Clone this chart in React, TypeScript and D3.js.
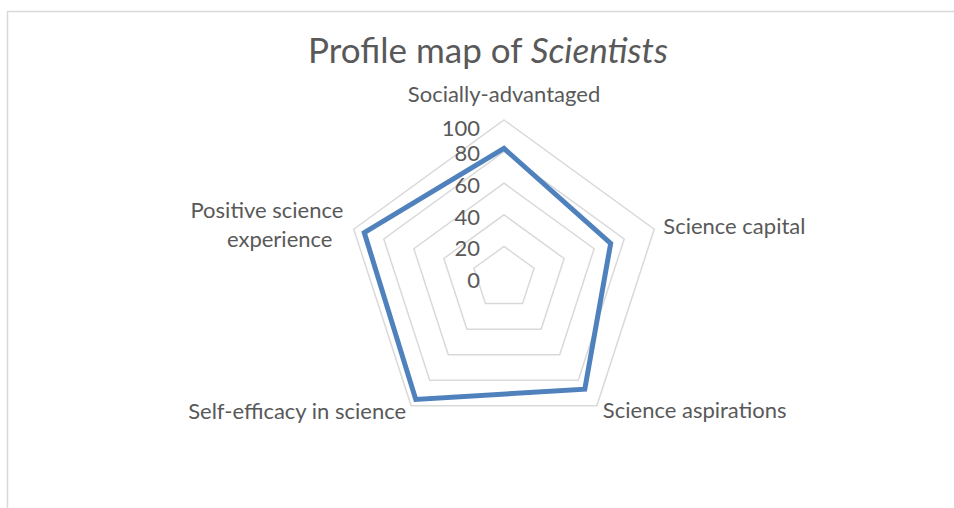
import React from "react";
import * as d3 from "d3";

const categories: string[][] = [
  ["Socially-advantaged"],
  ["Science capital"],
  ["Science aspirations"],
  ["Self-efficacy in science"],
  ["Positive science ", "experience"],
];
const scientists: number[] = [82, 71, 87, 95, 93];
const ticks: number[] = [0, 20, 40, 60, 80, 100];
const titleMain = "Profile map of ";
const titleItalic = "Scientists";

const W = 954;
const H = 508;
const CX = 504;
const CY = 278;
const R = 158;
const FONT = "Lato, 'Open Sans', sans-serif";
const TXT = "#595959";

// label placement style: per-line [dx, dy, anchor] relative to outer vertex
const labelStyle: { dx: number; dy: number; anchor: string }[][] = [
  [{ dx: 0, dy: -18, anchor: "middle" }],
  [{ dx: 9, dy: 4.5, anchor: "start" }],
  [{ dx: 6, dy: 12.5, anchor: "start" }],
  [{ dx: -5, dy: 13.5, anchor: "end" }],
  [
    { dx: -84, dy: -11, anchor: "middle" },
    { dx: -74, dy: 18, anchor: "middle" },
  ],
];

export default function App() {
  const r = d3.scaleLinear().domain([0, 100]).range([0, R]);
  const n = categories.length;
  const angle = d3
    .scaleLinear()
    .domain([0, n])
    .range([0, 2 * Math.PI]);
  const pt = (i: number, v: number): [number, number] => {
    const a = angle(i);
    return [CX + r(v) * Math.sin(a), CY - r(v) * Math.cos(a)];
  };
  const line = d3.line<[number, number]>().curve(d3.curveLinearClosed);

  const rings = ticks.filter((t) => t > 0);

  return (
    <svg
      width={W}
      height={H}
      style={{ position: "absolute", left: 0, top: 0, background: "#fff" }}
      fontFamily={FONT}
    >
      <rect x={7.5} y={11.5} width={W + 20} height={H + 20} fill="#fff" stroke="#d9d9d9" strokeWidth={1.5} />
      <text x={488} y={63} textAnchor="middle" fontSize={35} fill={TXT}>
        {titleMain}
        <tspan fontStyle="italic">{titleItalic}</tspan>
      </text>
      {rings.map((t) => (
        <path
          key={t}
          d={line(d3.range(n).map((i) => pt(i, t))) || ""}
          fill="none"
          stroke="#d9d9d9"
          strokeWidth={1.5}
        />
      ))}
      {ticks.map((t) => (
        <text
          key={t}
          x={480}
          y={r(0) + CY - r(t) + (t === 100 ? 8.5 : 2)}
          dy="0.35em"
          textAnchor="end"
          fontSize={22}
          fill={TXT}
        >
          {t}
        </text>
      ))}
      <path
        d={line(scientists.map((v, i) => pt(i, v))) || ""}
        fill="none"
        stroke="#4f81bd"
        strokeWidth={5}
        strokeLinejoin="miter"
      />
      {categories.map((lines, i) => {
        const [vx, vy] = pt(i, 100);
        return lines.map((l, j) => {
          const s = labelStyle[i][j];
          return (
            <text
              key={i + "-" + j}
              x={vx + s.dx}
              y={vy + s.dy}
              textAnchor={s.anchor}
              fontSize={22}
              fill={TXT}
              style={{ whiteSpace: "pre" }}
            >
              {l}
            </text>
          );
        });
      })}
    </svg>
  );
}
